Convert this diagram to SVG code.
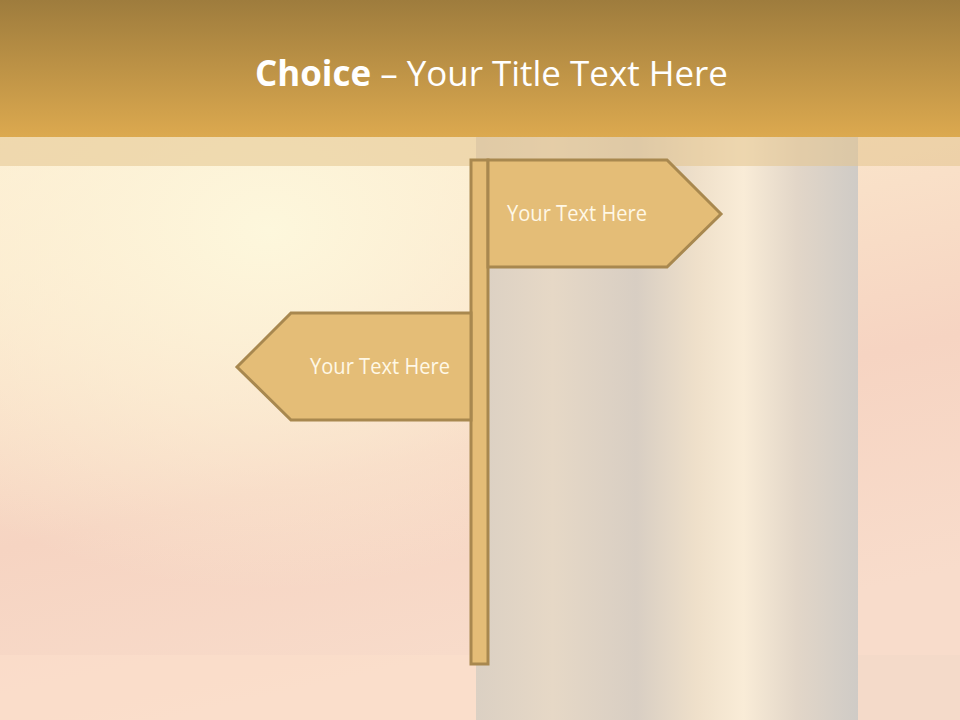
<svg xmlns="http://www.w3.org/2000/svg" width="960" height="720" viewBox="0 0 960 720">
<defs>
<linearGradient id="bg" x1="0" y1="0" x2="0.3" y2="1">
<stop offset="0" stop-color="#fdf3d6"/>
<stop offset="0.35" stop-color="#fbe8cc"/>
<stop offset="0.7" stop-color="#f6d4c2"/>
<stop offset="1" stop-color="#f8dccb"/>
</linearGradient>
<radialGradient id="glow" cx="0.28" cy="0.32" r="0.5">
<stop offset="0" stop-color="#fdf7dc" stop-opacity="1"/>
<stop offset="0.5" stop-color="#fdf3d8" stop-opacity="0.6"/>
<stop offset="1" stop-color="#fdf3d8" stop-opacity="0"/>
</radialGradient>
<linearGradient id="col" x1="0" y1="0" x2="1" y2="0">
<stop offset="0" stop-color="#dbd0c3"/>
<stop offset="0.2" stop-color="#e6d8c6"/>
<stop offset="0.42" stop-color="#d8cec3"/>
<stop offset="0.58" stop-color="#efe0ca"/>
<stop offset="0.7" stop-color="#f9ecd7"/>
<stop offset="0.84" stop-color="#e2d6c8"/>
<stop offset="1" stop-color="#cfcbc6"/>
</linearGradient>
<linearGradient id="hdr" x1="0" y1="0" x2="0" y2="1">
<stop offset="0" stop-color="#9e7c3d"/>
<stop offset="1" stop-color="#dca94f"/>
</linearGradient>
<style>
.sign{fill:#e4bd77;stroke:#a8884f;stroke-width:3;stroke-linejoin:miter}
.lbl{font-family:"Open Sans","DejaVu Sans",sans-serif;font-size:21px;fill:#fff8e6}
.title{font-family:"Open Sans","DejaVu Sans",sans-serif;font-size:35px;fill:#ffffff}
</style>
</defs>
<g id="background">
<rect x="0" y="0" width="960" height="720" fill="url(#bg)"/>
<rect x="0" y="0" width="960" height="720" fill="url(#glow)"/>
<rect x="0" y="655" width="476" height="65" fill="#fbe0cc" opacity="0.6"/>
<rect x="858" y="655" width="102" height="65" fill="#f2d8c8" opacity="0.6"/>
<rect x="476" y="137" width="382" height="583" fill="url(#col)"/>
<rect x="0" y="137" width="960" height="29" fill="#e4c48e" opacity="0.55"/>
</g>
<g id="header">
<rect x="0" y="0" width="960" height="137" fill="url(#hdr)"/>
<text class="title" x="255" y="86" textLength="473" lengthAdjust="spacingAndGlyphs"><tspan font-weight="bold">Choice</tspan> – Your Title Text Here</text>
</g>
<g id="post">
<rect class="sign" x="471" y="160" width="17" height="504"/>
</g>
<g id="sign-right">
<polygon class="sign" points="488,160 667,160 721,214 667,267 488,267"/>
<text class="lbl" x="507" y="221" textLength="140" lengthAdjust="spacingAndGlyphs">Your Text Here</text>
</g>
<g id="sign-left">
<polygon class="sign" points="471,313 291,313 237,367 291,420 471,420"/>
<text class="lbl" x="310" y="374" textLength="140" lengthAdjust="spacingAndGlyphs">Your Text Here</text>
</g>
<g id="connectors"/>
</svg>
